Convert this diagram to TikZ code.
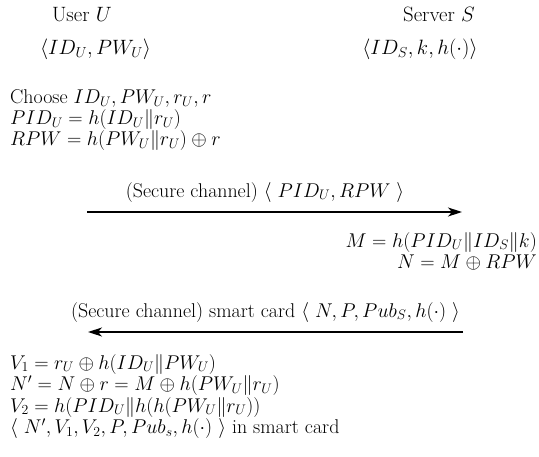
\documentclass[tikz,border=0pt]{standalone}
\usetikzlibrary{arrows.meta}
\begin{document}
\begin{tikzpicture}[x=1pt,y=-1pt,
  hd/.style={inner sep=0pt,font=\fontsize{20.74}{24}\selectfont,anchor=base},
  txt/.style={inner sep=0pt,font=\fontsize{20.74}{24}\selectfont,scale=0.96},
  lt/.style={txt,anchor=base west},
  rt/.style={txt,anchor=base east},
  ct/.style={txt,anchor=base},
  msg/.style={line width=1.3pt,-{Stealth[length=14pt,width=9pt,inset=4pt]}}]
\useasboundingbox (0,0) rectangle (539,456);
% headers
\node[hd] (user) at (82,21) {User $U$};
\node[hd] (userk) at (95.5,54) {$\langle ID_U, PW_U\rangle$};
\node[hd] (server) at (439,21) {Server $S$};
\node[hd] (serverk) at (420,54) {$\langle ID_S, k, h(\cdot)\rangle$};
% user step 1
\node[lt] (c1) at (10,103.5) {Choose $ID_U, PW_U, r_U, r$};
\node[lt] (c2) at (10,124.5) {$PID_U = h(ID_U\|r_U)$};
\node[lt] (c3) at (10,145.5) {$RPW = h(PW_U\|r_U)\oplus r$};
% message 1
\coordinate (a1s) at (87,212);
\coordinate (a1e) at (462,212);
\draw[msg] (a1s) -- (a1e);
\node[ct] (m1) at (265,197) {(Secure channel) $\langle$ $PID_U, RPW$ $\rangle$};
% server
\node[rt] (s1) at (537,247) {$M = h(PID_U\|ID_S\|k)$};
\node[rt] (s2) at (537,268.5) {$N = M\oplus RPW$};
% message 2
\coordinate (a2s) at (463,332);
\coordinate (a2e) at (88,332);
\draw[msg] (a2s) -- (a2e);
\node[ct] (m2) at (265.5,317) {(Secure channel) smart card $\langle$ $N, P, Pub_S, h(\cdot)$ $\rangle$};
% user step 2
\node[lt] (u1) at (10,369) {$V_1 = r_U\oplus h(ID_U\|PW_U)$};
\node[lt] (u2) at (10,390.5) {$N' = N\oplus r = M\oplus h(PW_U\|r_U)$};
\node[lt] (u3) at (10,412) {$V_2 = h(PID_U\|h(h(PW_U\|r_U))$};
\node[lt] (u4) at (10,433.5) {$\langle$ $N', V_1, V_2, P, Pub_s, h(\cdot)$ $\rangle$ in smart card};
\end{tikzpicture}
\end{document}
